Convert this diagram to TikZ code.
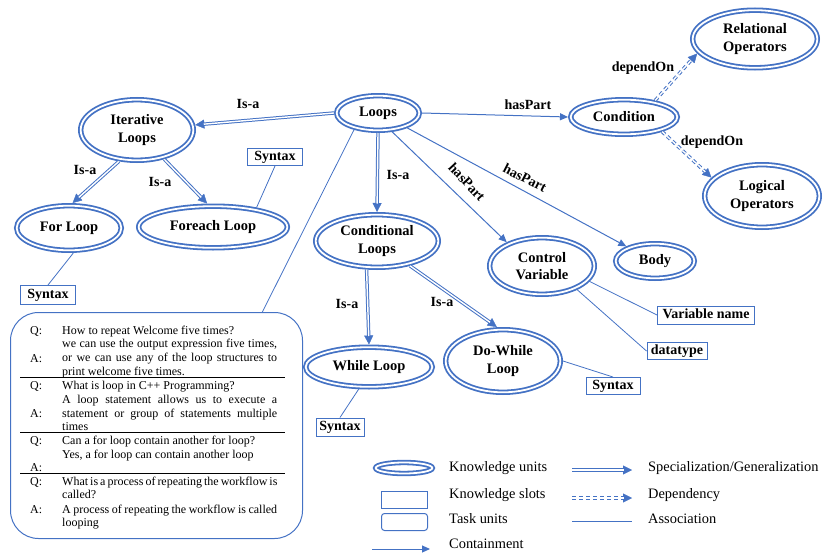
\documentclass[tikz,border=0pt]{standalone}
\usepackage{fontspec}
\setmainfont{Liberation Serif}
\usetikzlibrary{arrows.meta,shapes.geometric,decorations.markings}
\definecolor{kblue}{RGB}{68,114,196}

% specialization and dependency arrows: a marked tip plus a double body that stops at the tip
\newcommand\isaarrow[2]{\path[tipmark] (#1) -- (#2); \draw[isaline] (#1) -- (#2);}
\newcommand\deparrow[2]{\path[tipmark] (#1) -- (#2); \draw[depline] (#1) -- (#2);}

\begin{document}
\begin{tikzpicture}[x=1pt,y=-1pt,
  unit/.style={ellipse, draw=kblue, line width=1.8pt, double=white, double distance=1.8pt,
    inner sep=1pt, outer sep=2.7pt, align=center,
    font=\fontsize{14.5}{17.5}\selectfont\bfseries},
  slot/.style={rectangle, draw=kblue, line width=1pt, inner sep=2pt,
    text height=9.5pt, text depth=3pt, font=\fontsize{14}{16}\selectfont\bfseries},
  lbl/.style={font=\fontsize{14}{16}\selectfont\bfseries, inner sep=0pt},
  legtext/.style={font=\fontsize{14.4}{16}\selectfont, anchor=base west, inner sep=0pt},
  qa/.style={font=\fontsize{12}{13.5}\selectfont, anchor=base west, inner sep=0pt},
  assoc/.style={draw=kblue, line width=0.8pt},
  contain/.style={draw=kblue, line width=1pt, -{Triangle[length=8pt,width=7pt]}},
  tipmark/.style={decorate, decoration={markings,
    mark=at position 1 with {\arrow{Triangle[length=9pt,width=9pt,color=kblue]}}}},
  isaline/.style={draw=kblue, line width=1pt, double=white, double distance=1.4pt, shorten >=8.5pt},
  depline/.style={isaline, dash pattern=on 4pt off 3pt},
  rule/.style={draw=black, line width=0.9pt},
]
\useasboundingbox (0,0) rectangle (823,554);

% knowledge units
\node[unit, minimum width=82.6pt,  minimum height=34.6pt] (loops) at (378,113) {Loops};
\node[unit, minimum width=112.6pt, minimum height=60.6pt] (iter)  at (137,130) {Iterative\\Loops};
\node[unit, minimum width=104.6pt, minimum height=44.6pt] (forl)  at (69,228)  {For Loop};
\node[unit, minimum width=148.6pt, minimum height=41.6pt] (fore)  at (213,227) {Foreach Loop};
\node[unit, minimum width=122.6pt, minimum height=52.6pt] (cond)  at (377,241) {Conditional\\Loops};
\node[unit, minimum width=104.6pt, minimum height=56.6pt] (ctrl)  at (542,266) {Control\\Variable};
\node[unit, minimum width=78.6pt,  minimum height=34.6pt] (body)  at (655,261) {Body};
\node[unit, minimum width=106.6pt, minimum height=34.6pt] (condition) at (624,117) {Condition};
\node[unit, minimum width=124.6pt, minimum height=57.6pt] (rel)   at (755,39)  {Relational\\Operators};
\node[unit, minimum width=114.6pt, minimum height=62.6pt] (logi)  at (762,196) {Logical\\Operators};
\node[unit, minimum width=126.6pt, minimum height=39.6pt] (whl)   at (369,367) {While Loop};
\node[unit, minimum width=114.6pt, minimum height=62.6pt] (dowh)  at (503,361) {Do-While\\Loop};

% knowledge slots
\node[slot, minimum width=55pt, minimum height=17pt] (syn1) at (275,157) {Syntax};
\node[slot, minimum width=55pt, minimum height=19pt] (syn2) at (48,295)  {Syntax};
\node[slot, minimum width=48pt, minimum height=18pt] (syn3) at (340,427) {Syntax};
\node[slot, minimum width=54pt, minimum height=17pt] (syn4) at (613,386) {Syntax};
\node[slot, minimum width=97pt, minimum height=18pt] (varname) at (706,315) {Variable name};
\node[slot, minimum width=60pt, minimum height=17pt] (dtype) at (677,351) {datatype};

% task unit
\node[draw=kblue, line width=1pt, rounded corners=28pt, minimum width=292pt, minimum height=226pt] (qa) at (156.5,425.5) {};

\node[qa] (q1l) at (30,334) {Q:};
\node[qa] (q1)  at (62,334) {How to repeat Welcome five times?};
\node[qa] (a1l) at (30,362) {A:};
\node[qa] (a1a) at (62,347) {\makebox[215pt][s]{we can use the output expression five times,}};
\node[qa] (a1b) at (62,361) {\makebox[215pt][s]{or we can use any of the loop structures to}};
\node[qa] (a1c) at (62,375) {print welcome five times.};
\draw[rule] (20,377) -- (285,377);

\node[qa] (q2l) at (30,389) {Q:};
\node[qa] (q2)  at (62,389) {What is loop in C++ Programming?};
\node[qa] (a2l) at (30,417) {A:};
\node[qa] (a2a) at (62,403) {\makebox[215pt][s]{A loop statement allows us to execute a}};
\node[qa] (a2b) at (62,417) {\makebox[215pt][s]{statement or group of statements multiple}};
\node[qa] (a2c) at (62,430) {times};
\draw[rule] (20,432) -- (285,432);

\node[qa] (q3l) at (30,444) {Q:};
\node[qa] (q3)  at (62,444) {Can a for loop contain another for loop?};
\node[qa] (a3)  at (62,458) {Yes, a for loop can contain another loop};
\node[qa] (a3l) at (30,471) {A:};
\draw[rule] (20,473) -- (285,473);

\node[qa] (q4l) at (30,485) {Q:};
\node[qa] (q4a) at (62,485) {\makebox[215pt][s]{What is a process of repeating the workflow is}};
\node[qa] (q4b) at (62,498) {called?};
\node[qa] (a4l) at (30,513) {A:};
\node[qa] (a4a) at (62,513) {\makebox[215pt][s]{A process of repeating the workflow is called}};
\node[qa] (a4b) at (62,526) {looping};

% specialization
\isaarrow{loops.west}{iter.5}
\isaarrow{iter.240}{forl.82}
\isaarrow{iter.-47}{fore.104}
\isaarrow{loops.south}{cond.north}
\isaarrow{cond.250}{whl.north}
\isaarrow{cond.-37}{dowh.100}

% containment
\draw[contain] (loops.east) -- (condition.west);
\draw[contain] (loops.-53) -- (ctrl.146);
\draw[contain] (loops.-27) -- (body.153);

% dependency
\deparrow{condition.28}{rel.194}
\deparrow{condition.-21}{logi.160}

% association
\draw[assoc] (syn1.south) -- (fore.24);
\draw[assoc] (forl.-80) -- (syn2.north);
\draw[assoc] (loops.215) -- (qa.47);
\draw[assoc] (whl.245) -- (syn3.north);
\draw[assoc] (dowh.east) -- (syn4.north);
\draw[assoc] (ctrl.-18) -- (varname.west);
\draw[assoc] (ctrl.-34) -- (dtype.west);

% relation labels
\node[lbl] (l1) at (248,104) {Is-a};
\node[lbl] (l2) at (85,170)  {Is-a};
\node[lbl] (l3) at (160,182) {Is-a};
\node[lbl] (l4) at (398,175) {Is-a};
\node[lbl] (l5) at (347,304) {Is-a};
\node[lbl] (l6) at (442,302) {Is-a};
\node[lbl] (h1) at (528,105) {hasPart};
\node[lbl, rotate=-47] (h2) at (467,182) {hasPart};
\node[lbl, rotate=-27] (h3) at (525,178) {hasPart};
\node[lbl] (d1) at (643,68)  {dependOn};
\node[lbl] (d2) at (712,142) {dependOn};

% legend
\node[unit, minimum width=56.6pt, minimum height=11pt] (lgunit) at (404,468) {};
\node[draw=kblue, line width=1pt, minimum width=46pt, minimum height=17pt] (lgslot) at (404.5,500) {};
\node[draw=kblue, line width=1pt, rounded corners=3pt, minimum width=46pt, minimum height=17pt] (lgtask) at (404.5,522) {};
\coordinate (lgc1) at (372,549);
\coordinate (lgc2) at (430,549);
\draw[contain] (lgc1) -- (lgc2);
\node[legtext] (tunit) at (449,471) {Knowledge units};
\node[legtext] (tslot) at (449,498) {Knowledge slots};
\node[legtext] (ttask) at (449,523) {Task units};
\node[legtext] (tcont) at (449,548) {Containment};

\coordinate (lgs1) at (572,470);
\coordinate (lgs2) at (632,470);
\isaarrow{lgs1}{lgs2}
\coordinate (lgd1) at (572,498);
\coordinate (lgd2) at (632,498);
\deparrow{lgd1}{lgd2}
\coordinate (lga1) at (572,521);
\coordinate (lga2) at (632,521);
\draw[assoc] (lga1) -- (lga2);
\node[legtext] (tspec)  at (648,471) {Specialization/Generalization};
\node[legtext] (tdep)   at (648,498) {Dependency};
\node[legtext] (tassoc) at (648,523) {Association};
\end{tikzpicture}
\end{document}
